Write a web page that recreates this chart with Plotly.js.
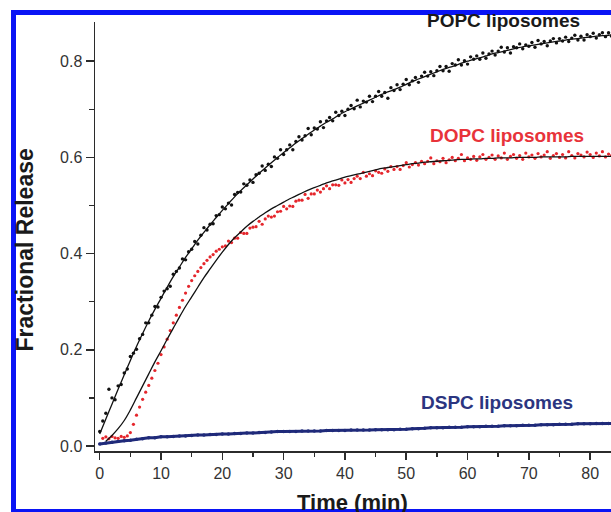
<!DOCTYPE html>
<html>
<head>
<meta charset="utf-8">
<script src="https://cdn.plot.ly/plotly-3.0.1.min.js"></script>
<style>
html,body{margin:0;padding:0;background:#fff;}
#chart{width:611px;height:512px;}
</style>
</head>
<body>
<div id="chart"></div>
<script>
// ---- data ----
const tHalf = [0,0.5,1,1.5,2,2.5,3,3.5,4,4.5,5,5.5,6,6.5,7,7.5,8,8.5,9,9.5,10,10.5,11,11.5,12,12.5,13,13.5,14,14.5,15,15.5,16,16.5,17,17.5,18,18.5,19,19.5,20,20.5,21,21.5,22,22.5,23,23.5,24,24.5,25,25.5,26,26.5,27,27.5,28,28.5,29,29.5,30,30.5,31,31.5,32,32.5,33,33.5,34,34.5,35,35.5,36,36.5,37,37.5,38,38.5,39,39.5,40,40.5,41,41.5,42,42.5,43,43.5,44,44.5,45,45.5,46,46.5,47,47.5,48,48.5,49,49.5,50,50.5,51,51.5,52,52.5,53,53.5,54,54.5,55,55.5,56,56.5,57,57.5,58,58.5,59,59.5,60,60.5,61,61.5,62,62.5,63,63.5,64,64.5,65,65.5,66,66.5,67,67.5,68,68.5,69,69.5,70,70.5,71,71.5,72,72.5,73,73.5,74,74.5,75,75.5,76,76.5,77,77.5,78,78.5,79,79.5,80,80.5,81,81.5,82,82.5,83,83.5,84];
const tMin = [0,1,2,3,4,5,6,7,8,9,10,11,12,13,14,15,16,17,18,19,20,21,22,23,24,25,26,27,28,29,30,31,32,33,34,35,36,37,38,39,40,41,42,43,44,45,46,47,48,49,50,51,52,53,54,55,56,57,58,59,60,61,62,63,64,65,66,67,68,69,70,71,72,73,74,75,76,77,78,79,80,81,82,83,84];

const popcDots = [0.030,0.052,0.068,0.118,0.100,0.096,0.125,0.128,0.152,0.160,0.186,0.193,0.201,0.223,0.232,0.256,0.256,0.272,0.290,0.289,0.309,0.322,0.327,0.332,0.357,0.363,0.370,0.389,0.387,0.404,0.409,0.425,0.420,0.438,0.454,0.449,0.461,0.462,0.479,0.481,0.497,0.493,0.505,0.501,0.523,0.527,0.528,0.545,0.542,0.553,0.548,0.564,0.567,0.582,0.573,0.586,0.581,0.601,0.598,0.616,0.606,0.616,0.626,0.616,0.633,0.643,0.636,0.645,0.660,0.647,0.661,0.659,0.674,0.662,0.676,0.683,0.676,0.694,0.687,0.696,0.687,0.700,0.708,0.701,0.719,0.705,0.717,0.715,0.727,0.716,0.727,0.737,0.727,0.735,0.723,0.745,0.739,0.751,0.741,0.752,0.762,0.751,0.759,0.766,0.756,0.769,0.777,0.769,0.778,0.770,0.780,0.789,0.780,0.789,0.779,0.795,0.792,0.803,0.792,0.801,0.794,0.809,0.804,0.811,0.804,0.817,0.806,0.815,0.821,0.813,0.821,0.829,0.819,0.828,0.817,0.830,0.828,0.836,0.826,0.834,0.831,0.839,0.829,0.843,0.836,0.841,0.832,0.842,0.847,0.838,0.847,0.842,0.850,0.841,0.848,0.854,0.844,0.852,0.844,0.855,0.851,0.858,0.848,0.855,0.859,0.851,0.859,0.852,0.860];
const popcFit = [0.025,0.056,0.087,0.118,0.148,0.178,0.207,0.234,0.260,0.284,0.307,0.330,0.352,0.372,0.392,0.410,0.428,0.444,0.460,0.475,0.490,0.504,0.518,0.531,0.543,0.555,0.567,0.578,0.589,0.600,0.610,0.620,0.630,0.639,0.648,0.657,0.665,0.673,0.680,0.688,0.695,0.701,0.707,0.713,0.719,0.725,0.731,0.736,0.741,0.746,0.752,0.758,0.763,0.768,0.773,0.778,0.783,0.787,0.791,0.796,0.800,0.804,0.807,0.811,0.815,0.818,0.821,0.824,0.827,0.830,0.832,0.834,0.836,0.838,0.840,0.842,0.844,0.846,0.847,0.849,0.850,0.852,0.853,0.854,0.856];

const dopcDots = [null,0.016,0.019,0.015,0.020,0.017,0.016,0.020,0.018,0.021,0.028,0.045,0.064,0.081,0.097,0.112,0.126,0.141,0.157,0.172,0.190,0.206,0.222,0.240,0.256,0.272,0.288,0.303,0.318,0.332,0.344,0.354,0.363,0.371,0.379,0.386,0.393,0.398,0.405,0.409,
  0.414,0.416,0.426,0.423,0.432,0.432,0.444,0.442,0.442,0.453,0.455,0.456,0.467,0.461,0.472,0.478,0.476,0.478,0.487,0.488,0.498,0.493,0.499,0.498,0.509,0.511,0.511,0.523,0.515,0.524,0.524,0.532,0.528,0.535,0.541,0.535,0.543,0.543,0.542,0.553,0.547,0.554,0.548,0.556,0.561,0.556,0.569,0.561,0.566,0.562,0.572,0.569,0.567,0.576,0.571,0.581,0.575,0.581,0.575,0.583,0.589,0.580,0.585,0.589,0.584,0.592,0.587,0.592,0.599,0.587,0.593,0.591,0.598,0.589,0.595,0.600,0.593,0.598,0.606,0.593,0.599,0.596,0.602,0.594,0.601,0.606,0.596,0.600,0.605,0.596,0.603,0.599,0.609,0.596,0.602,0.606,0.598,0.604,0.596,0.609,0.601,0.605,0.598,0.608,0.601,0.605,0.612,0.598,0.604,0.608,0.600,0.606,0.599,0.612,0.604,0.599,0.608,0.605,0.601,0.611,0.606,0.600,0.609,0.603,0.612,0.601,0.607,0.604,0.600];
const dopcFit = [null,0.010,0.022,0.036,0.053,0.075,0.100,0.125,0.150,0.175,0.198,0.222,0.245,0.268,0.290,0.310,0.330,0.350,0.368,0.386,0.403,0.419,0.433,0.445,0.457,0.467,0.476,0.485,0.493,0.500,0.507,0.514,0.520,0.526,0.532,0.537,0.542,0.547,0.551,0.555,0.559,0.562,0.565,0.568,0.571,0.574,0.577,0.579,0.581,0.583,0.585,0.587,0.588,0.590,0.591,0.592,0.593,0.594,0.595,0.596,0.596,0.597,0.597,0.598,0.598,0.599,0.599,0.599,0.600,0.600,0.600,0.600,0.601,0.601,0.601,0.601,0.601,0.602,0.602,0.602,0.602,0.602,0.602,0.602,0.602];

const dspcDots = [0.004,0.006,0.008,0.010,0.011,0.012,0.014,0.015,0.017,0.017,0.019,0.019,0.020,0.021,0.021,0.022,0.023,0.023,0.024,0.024,0.025,0.025,0.026,0.026,0.027,0.027,0.028,0.028,0.029,0.030,0.030,0.030,0.030,0.031,0.031,0.031,0.031,0.032,0.032,0.032,0.032,0.033,0.033,0.033,0.033,0.034,0.034,0.034,0.034,0.035,0.035,0.036,0.036,0.037,0.038,0.038,0.038,0.039,0.039,0.039,0.040,0.040,0.040,0.041,0.041,0.041,0.042,0.042,0.042,0.043,0.043,0.043,0.044,0.044,0.044,0.045,0.045,0.045,0.046,0.046,0.046,0.047,0.047,0.047,0.047];

const seriesLabels = ["POPC liposomes","DOPC liposomes","DSPC liposomes"];
const xTitle = "Time (min)";
const yTitle = "Fractional Release";

// ---- layout geometry (pixels) ----
const W = 611, H = 512;
const M = {l:95, r:0, t:22, b:61};
const PW = W - M.l - M.r, PH = H - M.t - M.b;
const px = x => (x - M.l) / PW;
const py = y => (H - M.b - y) / PH;

const FONT = "Liberation Sans, Arial, Helvetica, sans-serif";
const AX = "#2b2b2b";

const traces = [
  {x:tMin, y:dspcDots, mode:"lines+markers", line:{color:"#1f2a7a", width:3}, marker:{color:"#1f2a7a", size:3.5}, hoverinfo:"skip", showlegend:false},
  {x:tHalf, y:dopcDots, mode:"markers", marker:{color:"#e5262c", size:3.2}, hoverinfo:"skip", showlegend:false},
  {x:tMin, y:dopcFit, mode:"lines", line:{color:"#111", width:1.3, shape:"spline"}, connectgaps:false, hoverinfo:"skip", showlegend:false},
  {x:tHalf, y:popcDots, mode:"markers", marker:{color:"#111", size:3.4}, hoverinfo:"skip", showlegend:false},
  {x:tMin, y:popcFit, mode:"lines", line:{color:"#111", width:1.3, shape:"spline"}, hoverinfo:"skip", showlegend:false}
];

const layout = {
  width:W, height:H,
  margin:M,
  paper_bgcolor:"#fff", plot_bgcolor:"#fff",
  font:{family:FONT, color:"#333", size:16},
  showlegend:false,
  xaxis:{
    range:[-0.77, 83.4], showgrid:false, zeroline:false,
    showline:true, linecolor:AX, linewidth:1.5,
    ticks:"outside", ticklen:7, tickwidth:1.5, tickcolor:AX,
    tick0:0, dtick:10,
    minor:{ticks:"outside", dtick:5, ticklen:4, tickwidth:1.5, tickcolor:AX},
    tickfont:{size:16, color:"#333", family:FONT}
  },
  yaxis:{
    range:[-0.0104, 0.8815], showgrid:false, zeroline:false,
    showline:true, linecolor:AX, linewidth:1.5,
    ticks:"outside", ticklen:8, tickwidth:1.5, tickcolor:AX,
    tick0:0, dtick:0.2, tickformat:".1f",
    minor:{ticks:"outside", dtick:0.1, ticklen:5, tickwidth:1.5, tickcolor:AX},
    tickfont:{size:16, color:"#333", family:FONT}
  },
  annotations:[
    {text:"<b>"+seriesLabels[0]+"</b>", xref:"paper", yref:"paper", x:px(503), y:py(21), xanchor:"center", yanchor:"middle", showarrow:false, font:{size:19, color:"#1a1a1a", family:FONT}},
    {text:"<b>"+seriesLabels[1]+"</b>", xref:"paper", yref:"paper", x:px(506.5), y:py(135.5), xanchor:"center", yanchor:"middle", showarrow:false, font:{size:19, color:"#e8333a", family:FONT}},
    {text:"<b>"+seriesLabels[2]+"</b>", xref:"paper", yref:"paper", x:px(497), y:py(402.5), xanchor:"center", yanchor:"middle", showarrow:false, font:{size:19, color:"#2b3580", family:FONT}},
    {text:"<b>"+xTitle+"</b>", xref:"paper", yref:"paper", x:px(352.5), y:py(503), xanchor:"center", yanchor:"middle", showarrow:false, font:{size:22, color:"#1a1a1a", family:FONT}},
    {text:"<b>"+yTitle+"</b>", xref:"paper", yref:"paper", x:px(24.5), y:py(250), xanchor:"center", yanchor:"middle", textangle:-90, showarrow:false, font:{size:23, color:"#1a1a1a", family:FONT}}
  ],
  shapes:[
    {type:"rect", xref:"paper", yref:"paper", x0:px(11), x1:px(16), y0:py(512), y1:py(10), fillcolor:"#0a14f5", line:{width:0}, layer:"above"},
    {type:"rect", xref:"paper", yref:"paper", x0:px(11), x1:px(612), y0:py(15), y1:py(10), fillcolor:"#0a14f5", line:{width:0}, layer:"above"},
    {type:"rect", xref:"paper", yref:"paper", x0:px(11), x1:px(612), y0:py(512), y1:py(509), fillcolor:"#0a14f5", line:{width:0}, layer:"above"}
  ]
};

Plotly.newPlot("chart", traces, layout, {displayModeBar:false, staticPlot:true});
</script>
</body>
</html>
